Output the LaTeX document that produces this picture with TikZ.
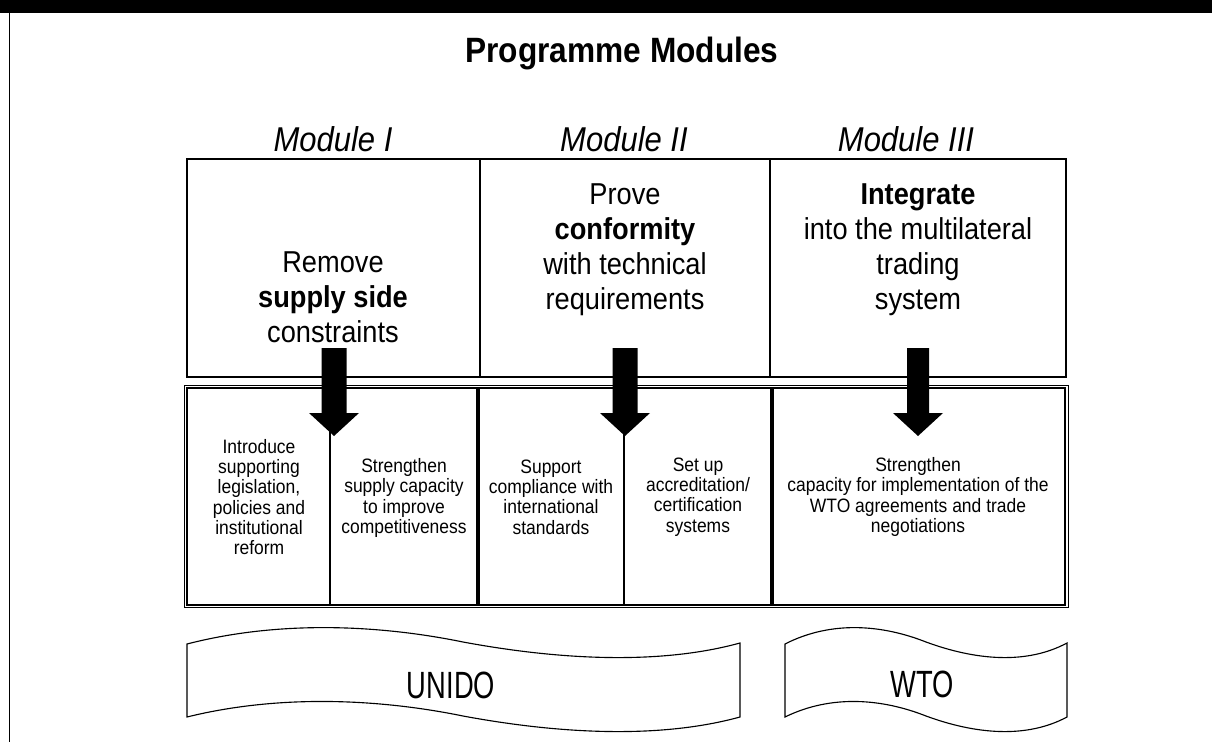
\documentclass[tikz,border=0pt]{standalone}
\usepackage{fontspec}
\setmainfont[FakeStretch=0.9]{Liberation Sans}
\newfontfamily\bannerfont[FakeStretch=0.72]{Liberation Sans}
\usepackage{tikz}
\usetikzlibrary{arrows}

\begin{document}
\begin{tikzpicture}[x=0.025cm,y=-0.025cm,
        headtext/.style={anchor=base,inner sep=0pt,font=\fontsize{25}{30}\selectfont\bfseries},
        modlabel/.style={anchor=base,inner sep=0pt,font=\fontsize{24.5}{28}\selectfont\itshape},
        aimtext/.style={align=center,inner sep=0pt,font=\fontsize{21.5}{24.9}\selectfont},
        tasktext/.style={align=center,inner sep=0pt,font=\fontsize{13.8}{14.4}\selectfont},
        bannertext/.style={anchor=base,inner sep=0pt,font=\bannerfont\fontsize{27}{30}\selectfont},
        aimbox/.style={draw,line width=0.8pt},
        taskbox/.style={draw,line width=1.6pt},
        bigarrow/.style={fill=black},
        banner/.style={draw,line width=0.8pt}]
        \useasboundingbox (0,0) rectangle (1212,742);

        % Frame
        \path [fill=black] (0,0) rectangle (1212,13);
        \draw [line width=0.7pt] (9,13) -- (9,742);
        \node [headtext] (title) at (622,63) {Programme Modules};

        % Module labels
        \node [modlabel] (labI) at (333,152) {Module I};
        \node [modlabel] (labII) at (624,152) {Module II};
        \node [modlabel] (labIII) at (906,152) {Module III};

        % Aim boxes
        \draw [aimbox] (187,159) rectangle (480,377);
        \draw [aimbox] (480,159) rectangle (770,377);
        \draw [aimbox] (770,159) rectangle (1066,377);
        \node [aimtext] (aimI) at (333,297) {Remove\\\textbf{supply side}\\constraints};
        \node [aimtext] (aimII) at (625,250) {Prove\\\textbf{conformity}\\with technical\\requirements};
        \node [aimtext] (aimIII) at (918,250) {\textbf{Integrate}\\into the multilateral\\trading\\system};

        % Task boxes
        \draw [line width=0.6pt] (184,385) rectangle (1068,607);
        \draw [taskbox] (187,388) rectangle (477,605);
        \draw [taskbox] (479,388) rectangle (771,605);
        \draw [taskbox] (773,388) rectangle (1065,605);
        \draw [line width=1.4pt] (330,388) -- (330,605);
        \draw [line width=1.4pt] (624,388) -- (624,605);
        \node [tasktext] (taskIa) at (259,497) {Introduce\\supporting\\legislation,\\policies and\\institutional\\reform};
        \node [tasktext] (taskIb) at (404,498) {Strengthen\\supply capacity\\to improve\\competitiveness};
        \node [tasktext] (taskIIa) at (551,497) {Support\\compliance with\\international\\standards};
        \node [tasktext] (taskIIb) at (698,497) {Set up\\accreditation/\\certification\\systems};
        \node [tasktext] (taskIII) at (918,497) {Strengthen\\capacity for implementation of the\\WTO agreements and trade\\negotiations};

        % Arrows
        \path [bigarrow] (321.5,348) -- (346.5,348) -- (346.5,413) -- (359,413) --
            (334,436) -- (309,413) -- (321.5,413) -- cycle;
        \path [bigarrow] (612.5,348) -- (637.5,348) -- (637.5,413) -- (650,413) --
            (625,436) -- (600,413) -- (612.5,413) -- cycle;
        \path [bigarrow] (907,348) -- (929,348) -- (929,413) -- (943,413) --
            (918,436) -- (893,413) -- (907,413) -- cycle;

        % Banners
        \draw [banner] (187,644) .. controls (280,620) and (380,625) .. (463,642)
            .. controls (560,660) and (660,665) .. (740,643) -- (740,717)
            .. controls (660,739) and (560,734) .. (463,716)
            .. controls (380,699) and (280,694) .. (187,717) -- cycle;
        \node [bannertext] (unido) at (451,698) {UNIDO};
        \draw [banner] (785,644) .. controls (832,620) and (883,625) .. (926,642)
            .. controls (975,660) and (1026,665) .. (1067,643) -- (1067,717)
            .. controls (1026,739) and (975,734) .. (926,716)
            .. controls (883,699) and (832,694) .. (785,717) -- cycle;
        \node [bannertext] (wto) at (922,697) {WTO};

\end{tikzpicture}
\end{document}
